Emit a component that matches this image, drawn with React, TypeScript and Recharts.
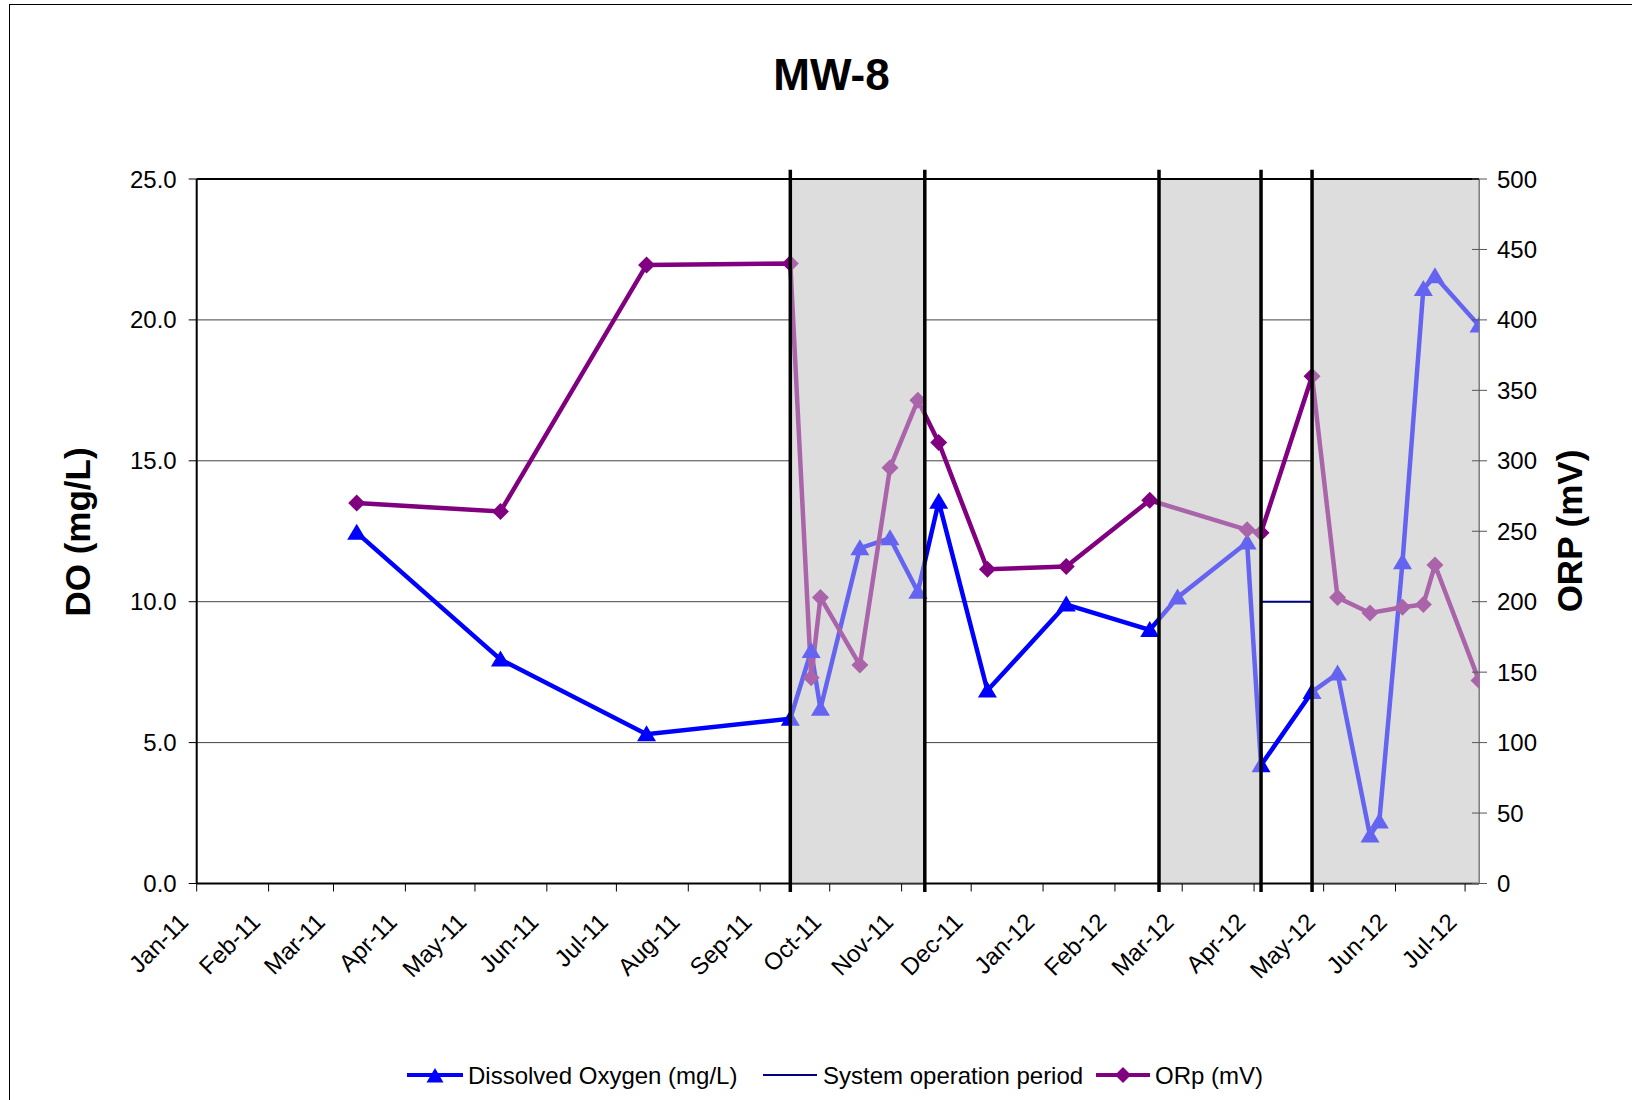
import React from 'react';
import {
  LineChart, Line, XAxis, YAxis, CartesianGrid, ReferenceArea, ReferenceLine,
} from 'recharts';

const FONT = '"Liberation Sans", Arial, Helvetica, sans-serif';

// sampling dates for MW-8
const sampleDates = [
  '2011-03-11', '2011-05-12', '2011-07-14', '2011-09-14', '2011-09-23', '2011-09-27',
  '2011-10-14', '2011-10-27', '2011-11-08', '2011-11-17', '2011-12-08', '2012-01-11',
  '2012-02-16', '2012-02-28', '2012-03-29', '2012-04-04', '2012-04-26', '2012-05-07',
  '2012-05-21', '2012-05-25', '2012-06-04', '2012-06-13', '2012-06-18', '2012-07-07',
];
// dissolved oxygen, mg/L (left axis)
const doValues = [
  12.45, 7.95, 5.3, 5.85, 8.25, 6.2,
  11.9, 12.25, 10.35, 13.55, 6.85, 9.9,
  9.0, 10.15, 12.1, 4.2, 6.8, 7.45,
  1.7, 2.2, 11.4, 21.1, 21.55, 19.8,
];
// ORP, mV (right axis) - not measured on two dates
const orpValues: (number | null)[] = [
  270, 264, 439, 440, 146, 203,
  155, 295, 343, 313, 223, 225,
  272, null, 251, 249, 360, 203,
  192, null, 196, 198, 226, 144,
];

// shaded system operation periods
const periodStarts = ['2011-09-14', '2012-02-20', '2012-04-26'];
const periodEnds = ['2011-11-11', '2012-04-04', '2012-07-07'];
// black boundary lines
const boundaryDates = ['2011-09-14', '2011-11-11', '2012-02-20', '2012-04-04', '2012-04-26'];
// "System operation period" series
const systemDates = ['2012-04-04', '2012-04-26'];
const systemValues = [10, 10];

const axisStart = '2011-01-01';
const monthTicks = [
  '2011-01-01', '2011-02-01', '2011-03-01', '2011-04-01', '2011-05-01', '2011-06-01',
  '2011-07-01', '2011-08-01', '2011-09-01', '2011-10-01', '2011-11-01', '2011-12-01',
  '2012-01-01', '2012-02-01', '2012-03-01', '2012-04-01', '2012-05-01', '2012-06-01',
  '2012-07-01',
];
const MONTHS = ['Jan', 'Feb', 'Mar', 'Apr', 'May', 'Jun', 'Jul', 'Aug', 'Sep', 'Oct', 'Nov', 'Dec'];
const doTicks = [0, 5, 10, 15, 20, 25];
const orpTicks = [0, 50, 100, 150, 200, 250, 300, 350, 400, 450, 500];

const toUtc = (s: string) => {
  const [y, m, d] = s.split('-').map(Number);
  return Date.UTC(y, m - 1, d);
};
const dayOf = (s: string) => Math.round((toUtc(s) - toUtc(axisStart)) / 86400000);
const monthLabel = (day: number) => {
  const dt = new Date(toUtc(axisStart) + day * 86400000);
  return `${MONTHS[dt.getUTCMonth()]}-${String(dt.getUTCFullYear()).slice(2)}`;
};

const data = sampleDates.map((s, i) => ({ day: dayOf(s), do: doValues[i], orp: orpValues[i] }));
const systemData = systemDates.map((s, i) => ({ day: dayOf(s), sys: systemValues[i] }));
const xDomain = [0, dayOf(sampleDates[sampleDates.length - 1])];

const renderTriangle = (p: any) => {
  const { cx, cy, index } = p;
  if (cx == null || cy == null) return <g key={`t-${index}`} />;
  return (
    <polygon
      key={`t-${index}`}
      points={`${cx},${cy - 9} ${cx + 9.5},${cy + 7} ${cx - 9.5},${cy + 7}`}
      fill="#0000FF"
    />
  );
};

const renderDiamond = (p: any) => {
  const { cx, cy, index, value } = p;
  if (cx == null || cy == null || value == null) return <g key={`d-${index}`} />;
  return (
    <polygon
      key={`d-${index}`}
      points={`${cx},${cy - 8.5} ${cx + 8.5},${cy} ${cx},${cy + 8.5} ${cx - 8.5},${cy}`}
      fill="#800080"
    />
  );
};

const DateTick = (props: any) => {
  const { x, y, payload } = props;
  const tx = x - 7;
  const ty = y + 30;
  return (
    <text
      x={tx}
      y={ty}
      textAnchor="end"
      fontSize={24}
      fontFamily={FONT}
      fill="#000"
      transform={`rotate(-45, ${tx}, ${ty})`}
    >
      {monthLabel(payload.value)}
    </text>
  );
};

const OrpTick = (props: any) => {
  const { x, y, payload } = props;
  // Excel draws cross ticks on this axis: add the inner half
  const ax = x - 18;
  return (
    <g>
      <line x1={ax - 7} y1={y} x2={ax} y2={y} stroke="#555" strokeWidth={1} />
      <text x={x} y={y} dy="0.355em" textAnchor="start" fontSize={24} fontFamily={FONT} fill="#000">
        {payload.value}
      </text>
    </g>
  );
};

const LeftTitle = () => (
  <text
    x={90}
    y={532}
    textAnchor="middle"
    fontSize={35}
    fontWeight="bold"
    fontFamily={FONT}
    fill="#000"
    transform="rotate(-90, 90, 532)"
  >
    DO (mg/L)
  </text>
);

const RightTitle = () => (
  <text
    x={1582}
    y={531}
    textAnchor="middle"
    fontSize={35}
    fontWeight="bold"
    fontFamily={FONT}
    fill="#000"
    transform="rotate(-90, 1582, 531)"
  >
    ORP (mV)
  </text>
);

export default function App() {
  return (
    <div style={{ position: 'absolute', left: 0, top: 0, width: 1632, height: 1100, overflow: 'hidden', background: '#fff' }}>
      <div style={{ position: 'absolute', left: 9, top: 4, width: 1640, height: 1120, border: '1px solid #000' }} />

      <div style={{ position: 'absolute', left: 0, top: 0 }}>
        <LineChart
          width={1632}
          height={1100}
          data={data}
          margin={{ top: 179, right: 53, bottom: 116.5, left: 96.7 }}
        >
          <CartesianGrid yAxisId="left" vertical={false} stroke="#444" strokeWidth={1} />
          <XAxis
            dataKey="day"
            type="number"
            domain={xDomain}
            ticks={monthTicks.map(dayOf)}
            interval={0}
            allowDataOverflow
            height={100}
            tickSize={8}
            tickMargin={2}
            tick={<DateTick />}
            axisLine={{ stroke: '#000', strokeWidth: 2 }}
            tickLine={{ stroke: '#000', strokeWidth: 1 }}
          />
          <YAxis
            yAxisId="left"
            domain={[0, 25]}
            ticks={doTicks}
            width={100}
            tickSize={8}
            tickMargin={12}
            tickFormatter={(v: number) => v.toFixed(1)}
            tick={{ fontSize: 24, fill: '#000', fontFamily: FONT }}
            axisLine={{ stroke: '#000', strokeWidth: 2 }}
            tickLine={{ stroke: '#000', strokeWidth: 1 }}
            label={<LeftTitle />}
          />
          <YAxis
            yAxisId="right"
            orientation="right"
            domain={[0, 500]}
            ticks={orpTicks}
            width={100}
            tickSize={8}
            tickMargin={10}
            tick={<OrpTick />}
            axisLine={{ stroke: '#808080', strokeWidth: 2 }}
            tickLine={{ stroke: '#555', strokeWidth: 1 }}
            label={<RightTitle />}
          />

          {periodStarts.map((s, i) => (
            <ReferenceArea
              key={`base-${i}`}
              yAxisId="left"
              x1={dayOf(s)}
              x2={dayOf(periodEnds[i])}
              y1={0}
              y2={25}
              fill="#dddddd"
              fillOpacity={1}
              stroke="none"
              zIndex={50}
            />
          ))}

          <Line
            yAxisId="left"
            dataKey="do"
            name="Dissolved Oxygen (mg/L)"
            stroke="#0000FF"
            strokeWidth={4.5}
            dot={renderTriangle}
            activeDot={false}
            isAnimationActive={false}
          />
          <Line
            yAxisId="left"
            data={systemData}
            dataKey="sys"
            name="System operation period"
            stroke="#000080"
            strokeWidth={2}
            dot={false}
            activeDot={false}
            isAnimationActive={false}
          />
          <Line
            yAxisId="right"
            dataKey="orp"
            name="ORp (mV)"
            stroke="#800080"
            strokeWidth={4.5}
            connectNulls
            dot={renderDiamond}
            activeDot={false}
            isAnimationActive={false}
          />

          {periodStarts.map((s, i) => (
            <ReferenceArea
              key={`veil-${i}`}
              yAxisId="left"
              x1={dayOf(s)}
              x2={dayOf(periodEnds[i])}
              y1={0}
              y2={25}
              fill="#dddddd"
              fillOpacity={0.45}
              stroke="none"
              zIndex={1500}
            />
          ))}

          <ReferenceLine yAxisId="left" y={25} stroke="#000" strokeWidth={2} zIndex={1600} />
          {boundaryDates.map((s) => (
            <ReferenceLine
              key={s}
              yAxisId="left"
              segment={[{ x: dayOf(s), y: -0.3 }, { x: dayOf(s), y: 25.33 }]}
              ifOverflow="visible"
              stroke="#000"
              strokeWidth={3.5}
              zIndex={1700}
            />
          ))}
        </LineChart>
      </div>

      <svg width={1632} height={1100} style={{ position: 'absolute', left: 0, top: 0, pointerEvents: 'none' }}>
        <text x={831.5} y={90} textAnchor="middle" fontSize={44} fontWeight="bold" fontFamily={FONT} fill="#000">
          MW-8
        </text>

        <g fontFamily={FONT} fontSize={24} fill="#000">
          <line x1={407} y1={1075} x2={463} y2={1075} stroke="#0000FF" strokeWidth={4} />
          <polygon points="435,1068 443.5,1082.5 426.5,1082.5" fill="#0000FF" />
          <text x={468} y={1084}>Dissolved Oxygen (mg/L)</text>

          <line x1={763} y1={1075} x2={817} y2={1075} stroke="#000080" strokeWidth={2} />
          <text x={823} y={1084}>System operation period</text>

          <line x1={1096} y1={1075} x2={1150} y2={1075} stroke="#800080" strokeWidth={4} />
          <polygon points="1123,1067 1131,1075 1123,1083 1115,1075" fill="#800080" />
          <text x={1155} y={1084}>ORp (mV)</text>
        </g>
      </svg>
    </div>
  );
}
